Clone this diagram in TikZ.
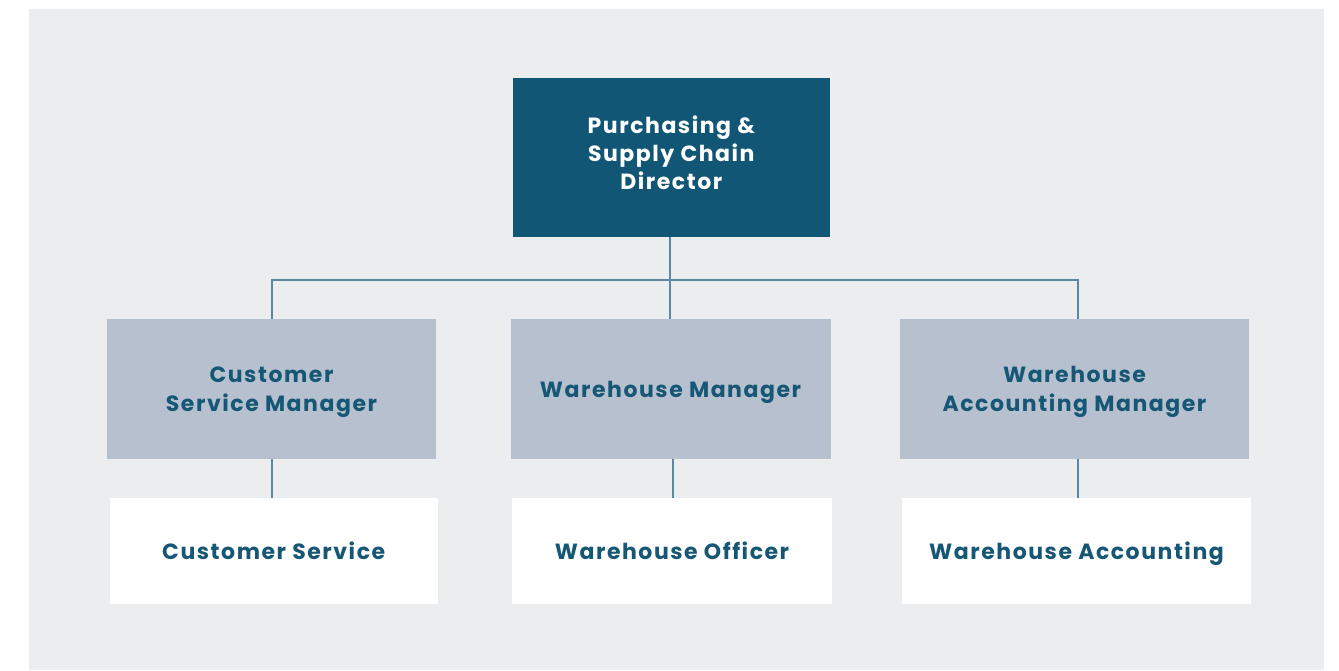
\documentclass[tikz,border=0pt]{standalone}
\usepackage{fontspec}
\newfontfamily\orgfont[LetterSpace=7]{Poppins}
\definecolor{bgc}{HTML}{ECEDEF}
\definecolor{dirc}{HTML}{115775}
\definecolor{mgrc}{HTML}{B6C0CF}
\definecolor{txtc}{HTML}{155775}
\definecolor{linec}{HTML}{5A88A2}
\tikzset{
  orgbox/.style={rectangle, inner sep=0pt, align=center, text depth=0pt, font=\orgfont\bfseries\fontsize{22}{29}\selectfont},
  dirbox/.style={orgbox, fill=dirc, text=white},
  mgrbox/.style={orgbox, fill=mgrc, text=txtc},
  staffbox/.style={orgbox, fill=white, text=txtc},
  conn/.style={draw=linec, line width=1.3pt}
}
\begin{document}
\begin{tikzpicture}[x=1pt,y=-1pt]
\useasboundingbox (0,0) rectangle (1339,670);
\fill[white] (0,0) rectangle (1339,670);
\fill[bgc] (29,9) rectangle (1324,670);

\node[dirbox, minimum width=317pt, minimum height=159pt] (dir) at (671.3,157.4) {};
\node[text=white, font=\orgfont\bfseries\fontsize{22}{28}\selectfont, align=center, inner sep=0pt] (dirtext) at (671.3,152.5) {Purchasing \&\\Supply Chain\\Director};

\node[mgrbox, minimum width=329pt, minimum height=140pt] (csm) at (271.5,389) {Customer\\Service Manager};
\node[mgrbox, minimum width=320pt, minimum height=140pt] (wm) at (670.5,389) {Warehouse Manager};
\node[mgrbox, minimum width=349pt, minimum height=140pt] (wam) at (1074.5,389) {Warehouse\\Accounting Manager};

\node[staffbox, minimum width=328pt, minimum height=106pt] (cs) at (273.7,551) {Customer Service};
\node[staffbox, minimum width=320pt, minimum height=106pt] (wo) at (672,551) {Warehouse Officer};
\node[staffbox, minimum width=349pt, minimum height=106pt] (wa) at (1076.5,551) {Warehouse Accounting};

\coordinate (bus) at (670,280);
\draw[conn] (dir.south -| bus) -- (wm.north -| bus);
\draw[conn] ([xshift=0.5pt]csm.north) |- (bus) -| ([xshift=3.5pt]wam.north);
\draw[conn] ([xshift=0.5pt]csm.south) -- ([xshift=-1.7pt]cs.north);
\draw[conn] ([xshift=2.5pt]wm.south) -- ([xshift=1pt]wo.north);
\draw[conn] ([xshift=3.5pt]wam.south) -- ([xshift=1.5pt]wa.north);
\end{tikzpicture}
\end{document}
